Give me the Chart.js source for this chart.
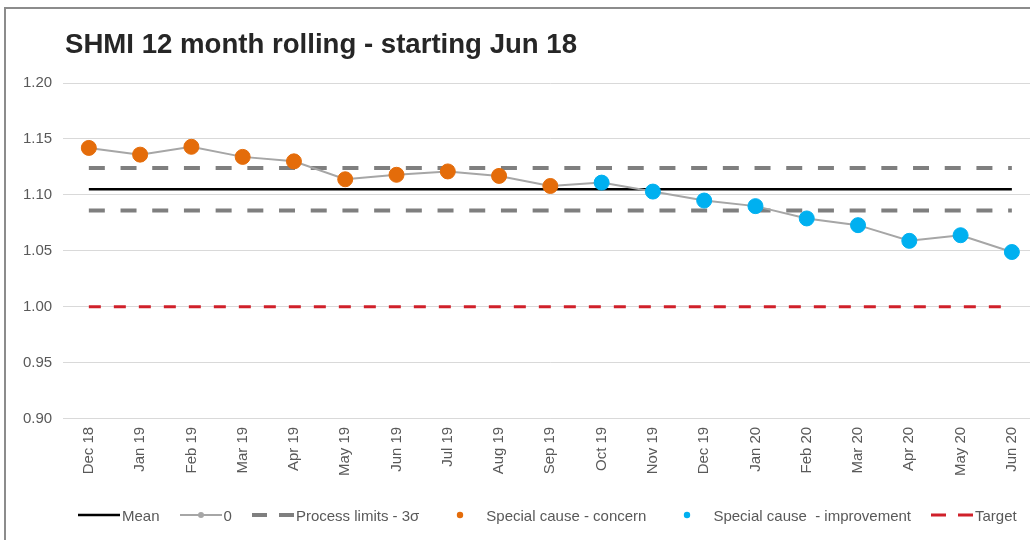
<!DOCTYPE html>
<html>
<head>
<meta charset="utf-8">
<title>SHMI 12 month rolling</title>
<script src="https://cdn.jsdelivr.net/npm/chart.js@4.4.1/dist/chart.umd.min.js"></script>
<style>
    body { margin: 0; background: #fff; overflow: hidden; font-family: 'Liberation Sans', Arial, sans-serif; }
    #frame { position: absolute; left: 4px; top: 7px; width: 1100px; height: 600px;
             border-left: 2px solid #8c8c8c; border-top: 2px solid #8c8c8c; }
    #chartBox { position: absolute; left: 0; top: 0; width: 1046px; height: 540px; }
    #title { position: absolute; left: 65px; top: 30px; font-size: 27.6px; line-height: 27px;
             font-weight: bold; color: #262626; white-space: nowrap; }
    #legend { position: absolute; left: 78px; top: 505px; height: 20px; display: flex;
              align-items: center; font-size: 15px; color: #595959; }
    .legend-item { display: flex; align-items: center; margin-right: 20px; white-space: pre; }
    .legend-item canvas { margin-right: 2px; }
    .legend-item.dot canvas { margin-right: 5px; }
</style>
</head>
<body>
<div id="frame"></div>
<div id="chartBox"><canvas id="shmiChart"></canvas></div>
<div id="title">SHMI 12 month rolling - starting Jun 18</div>
<div id="legend"></div>

<script>
// Months on the x axis
const months = ['Dec 18', 'Jan 19', 'Feb 19', 'Mar 19', 'Apr 19', 'May 19', 'Jun 19', 'Jul 19', 'Aug 19',
    'Sep 19', 'Oct 19', 'Nov 19', 'Dec 19', 'Jan 20', 'Feb 20', 'Mar 20', 'Apr 20', 'May 20', 'Jun 20'];

// Rolling 12 month SHMI
const shmiValues = [1.142, 1.136, 1.143, 1.134, 1.130, 1.114, 1.118, 1.121, 1.117,
    1.108, 1.111, 1.103, 1.095, 1.090, 1.079, 1.073, 1.059, 1.064, 1.049];

// SPC signal for each month
const signalType = ['concern', 'concern', 'concern', 'concern', 'concern', 'concern', 'concern', 'concern', 'concern',
    'concern', 'improvement', 'improvement', 'improvement', 'improvement', 'improvement', 'improvement',
    'improvement', 'improvement', 'improvement'];

// Control lines
const meanValue = 1.105;
const upperLimit = 1.124;
const lowerLimit = 1.086;
const targetValue = 1.00;

// Y axis tick labels
const yTickValues = [0.90, 0.95, 1.00, 1.05, 1.10, 1.15, 1.20];

const colors = {
    mean: '#000000',
    series: '#a6a6a6',
    limits: '#7f7f7f',
    concern: '#e46c0a',
    improvement: '#00b0f0',
    target: '#d0202a',
    text: '#595959',
    grid: '#d9d9d9'
};

Chart.defaults.font.family = "'Liberation Sans', Arial, sans-serif";

// Same value for every month
function flatLine(value) {
    return months.map(() => value);
}

// Keep only the months carrying the given signal
function signalPoints(type) {
    return shmiValues.map((v, i) => signalType[i] === type ? v : null);
}

const datasets = [
    {
        label: 'Mean',
        data: flatLine(meanValue),
        borderColor: colors.mean,
        borderWidth: 2.5,
        pointRadius: 0,
        order: 2
    },
    {
        label: '0',
        data: shmiValues,
        borderColor: colors.series,
        backgroundColor: colors.series,
        borderWidth: 2,
        pointRadius: 3,
        pointBorderWidth: 0,
        order: 1
    },
    {
        label: 'Process limits - 3σ',
        data: flatLine(upperLimit),
        borderColor: colors.limits,
        borderWidth: 4,
        borderDash: [16, 15.7],
        pointRadius: 0,
        order: 3
    },
    {
        label: 'Process limits - 3σ',
        data: flatLine(lowerLimit),
        borderColor: colors.limits,
        borderWidth: 4,
        borderDash: [16, 15.7],
        pointRadius: 0,
        hideInLegend: true,
        order: 3
    },
    {
        label: 'Special cause - concern',
        data: signalPoints('concern'),
        showLine: false,
        backgroundColor: colors.concern,
        borderColor: colors.concern,
        pointRadius: 7.5,
        pointBorderWidth: 1,
        order: 0
    },
    {
        label: 'Special cause  - improvement',
        data: signalPoints('improvement'),
        showLine: false,
        backgroundColor: colors.improvement,
        borderColor: colors.improvement,
        pointRadius: 7.5,
        pointBorderWidth: 1,
        order: 0
    },
    {
        label: 'Target',
        data: flatLine(targetValue),
        borderColor: colors.target,
        borderWidth: 3,
        borderDash: [12, 13],
        pointRadius: 0,
        order: 4
    }
];

const chart = new Chart(document.getElementById('shmiChart'), {
    type: 'line',
    data: { labels: months, datasets: datasets },
    options: {
        responsive: true,
        maintainAspectRatio: false,
        animation: false,
        layout: { padding: { left: 12, right: 0, top: 83, bottom: 56 } },
        plugins: {
            legend: { display: false },
            tooltip: { enabled: false }
        },
        scales: {
            x: {
                offset: true,
                grid: { display: false, drawTicks: false },
                border: { color: colors.grid },
                ticks: {
                    autoSkip: false,
                    minRotation: 90,
                    maxRotation: 90,
                    padding: 8,
                    color: colors.text,
                    font: { size: 15 }
                }
            },
            y: {
                min: 0.9,
                max: 1.2,
                afterBuildTicks: axis => {
                    axis.ticks = yTickValues.map(v => ({ value: v }));
                },
                grid: { color: colors.grid, drawTicks: false },
                border: { display: false },
                ticks: {
                    padding: 11,
                    color: colors.text,
                    font: { size: 15 },
                    callback: v => Number(v).toFixed(2)
                }
            }
        }
    }
});

// Small line / dot sample next to each legend label
function drawSample(canvas, ds) {
    const ctx = canvas.getContext('2d');
    const mid = canvas.height / 2;
    if (ds.showLine === false) {
        ctx.fillStyle = ds.backgroundColor;
        ctx.beginPath();
        ctx.arc(canvas.width / 2, mid, 3.2, 0, Math.PI * 2);
        ctx.fill();
        return;
    }
    ctx.strokeStyle = ds.borderColor;
    ctx.lineWidth = ds.borderWidth;
    if (ds.borderDash) {
        ctx.setLineDash([15, canvas.width - 30]);
    }
    ctx.beginPath();
    ctx.moveTo(0, mid);
    ctx.lineTo(canvas.width, mid);
    ctx.stroke();
    if (ds.pointRadius > 0) {
        ctx.fillStyle = ds.backgroundColor;
        ctx.beginPath();
        ctx.arc(canvas.width / 2, mid, ds.pointRadius, 0, Math.PI * 2);
        ctx.fill();
    }
}

function renderLegend() {
    const legend = document.getElementById('legend');
    chart.data.datasets.forEach(ds => {
        if (ds.hideInLegend) return;
        const item = document.createElement('div');
        item.className = ds.showLine === false ? 'legend-item dot' : 'legend-item';
        const sample = document.createElement('canvas');
        sample.width = 42;
        sample.height = 20;
        drawSample(sample, ds);
        const text = document.createElement('span');
        text.textContent = ds.label;
        item.appendChild(sample);
        item.appendChild(text);
        legend.appendChild(item);
    });
}

renderLegend();
</script>
</body>
</html>
